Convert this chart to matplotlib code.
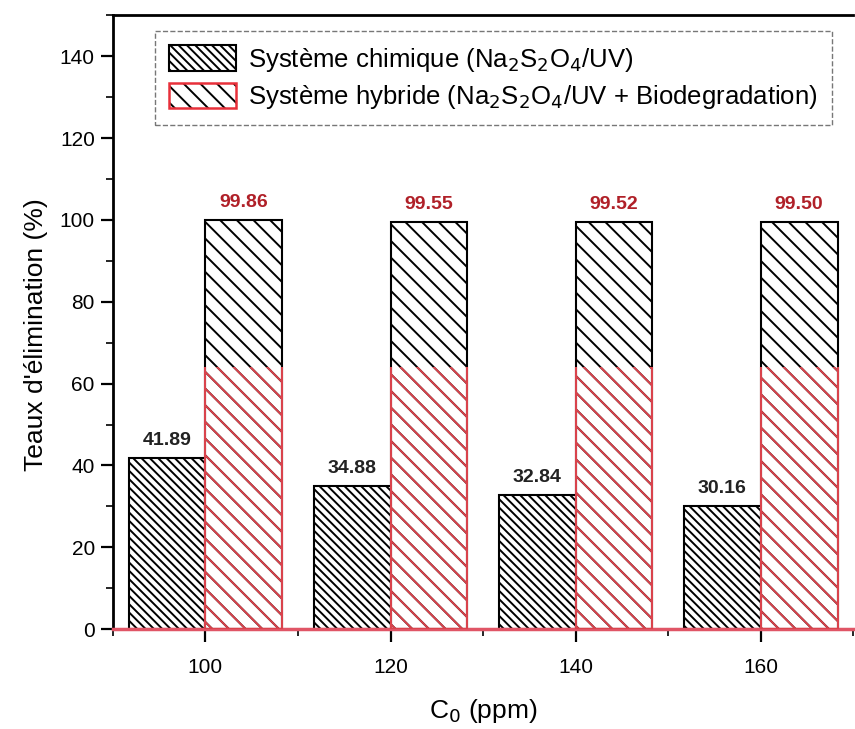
import matplotlib
matplotlib.use("Agg")
import matplotlib.pyplot as plt
import numpy as np
from matplotlib.ticker import MultipleLocator
from matplotlib.patches import Rectangle, Patch

plt.rcParams['font.family'] = ['Liberation Sans', 'DejaVu Sans']
plt.rcParams['hatch.linewidth'] = 1.4

# Data
concentrations = ["100", "120", "140", "160"]
chimique = [41.89, 34.88, 32.84, 30.16]
hybride = [99.86, 99.55, 99.52, 99.50]
label_chimique = "Système chimique (Na$_2$S$_2$O$_4$/UV)"
label_hybride = "Système hybride (Na$_2$S$_2$O$_4$/UV + Biodegradation)"

fig = plt.figure(figsize=(8.55, 7.29), dpi=100)
ax = fig.add_axes([0.132, 0.137, 0.866, 0.842])

x = np.arange(len(concentrations))
w = 0.415

ax.bar(x, chimique, width=-w, align='edge', facecolor='white',
       edgecolor='black', hatch='\\\\\\\\', linewidth=1.5, zorder=2)
ax.bar(x, hybride, width=w, align='edge', facecolor='white',
       edgecolor='black', hatch='\\\\', linewidth=1.5, zorder=2)

# reddish tint on the lower part of the hybrid bars
b3 = ax.bar(x, hybride, width=w, align='edge', facecolor='none',
            edgecolor='#d9434c', hatch='\\\\', linewidth=1.5, zorder=3)
clip = Rectangle((0, 0), 1, 64 / 150, transform=ax.transAxes)
for p in b3:
    p.set_clip_path(clip)

for xi, v in zip(x, chimique):
    ax.text(xi - w / 2, v + 2.2, f"{v:.2f}", ha='center', va='bottom',
            fontsize=14, fontweight='bold', color='#222222')
for xi, v in zip(x, hybride):
    ax.text(xi + w / 2, v + 2.2, f"{v:.2f}", ha='center', va='bottom',
            fontsize=14, fontweight='bold', color='#b02028')

ax.set_xlim(-0.5, 3.5)
ax.set_ylim(0, 150)
ax.set_xticks(x)
ax.set_xticklabels(concentrations)
ax.xaxis.set_minor_locator(MultipleLocator(0.5))
ax.yaxis.set_major_locator(MultipleLocator(20))
ax.yaxis.set_minor_locator(MultipleLocator(10))
ax.tick_params(axis='both', which='major', labelsize=15, length=9, width=1.6,
               direction='out')
ax.tick_params(axis='x', which='major', pad=12)
ax.tick_params(axis='y', which='major', pad=4)
ax.tick_params(axis='both', which='minor', length=5, width=1.2, direction='out')

for s in ['left', 'top']:
    ax.spines[s].set_linewidth(2)
ax.spines['right'].set_visible(False)
ax.spines['bottom'].set_linewidth(2.5)
ax.spines['bottom'].set_color('#e05566')

ax.set_ylabel("Teaux d'élimination (%)", fontsize=19)
ax.yaxis.set_label_coords(-0.088, 0.48)
ax.set_xlabel("C$_0$ (ppm)", fontsize=19, labelpad=14)

# legend keys: hatch layer plus an outline layer
h_chim = Patch(facecolor='white', edgecolor='black', hatch='\\\\\\\\',
               linewidth=1.5)
h_hyb_fill = Patch(facecolor='white', edgecolor='black', hatch='\\\\',
                   linewidth=0)
h_hyb_edge = Patch(facecolor='none', edgecolor='#e8303a', linewidth=1.8)

leg = ax.legend([h_chim, (h_hyb_fill, h_hyb_edge)],
                [label_chimique, label_hybride], loc='upper left',
                bbox_to_anchor=(0.04, 0.995), fontsize=18.5,
                handlelength=2.6, handleheight=1.15, frameon=True,
                fancybox=False, edgecolor='#555555', borderpad=0.55,
                labelspacing=0.35, handletextpad=0.45)
leg.get_frame().set_linestyle('--')
leg.get_frame().set_linewidth(1.0)

fig.savefig("out.png", dpi=100)
